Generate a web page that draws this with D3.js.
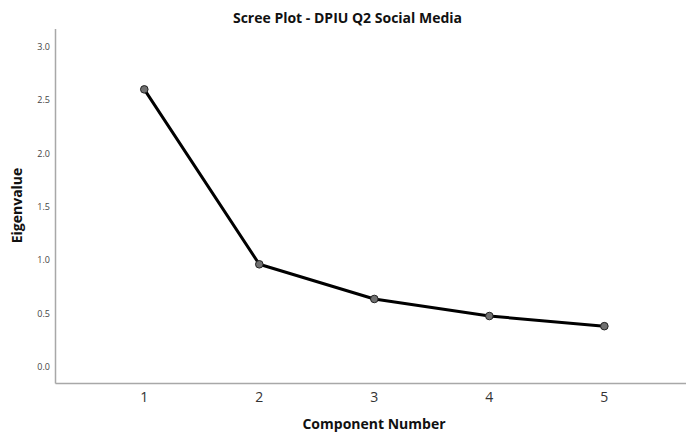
<!DOCTYPE html>
<html>
  <head>
    <meta charset="utf-8">
    <title>Scree Plot</title>
    <script src="https://d3js.org/d3.v7.min.js"></script>
    <style>
      body { margin: 0; background: #fff; }
      text { font-family: "Open Sans", "DejaVu Sans", sans-serif; }
    </style>
  </head>
  <body>
    <script>
      var components = [1, 2, 3, 4, 5];
      var eigenvalues = [2.60, 0.96, 0.635, 0.475, 0.38];
      var yTicks = [0.0, 0.5, 1.0, 1.5, 2.0, 2.5, 3.0];

      var width = 687, height = 432;

      var svg = d3.select("body").append("svg")
          .attr("width", width)
          .attr("height", height);

      // axis frame
      var x = d3.scaleLinear().domain([0.228, 5.71]).range([55.5, 686]);
      var y = d3.scaleLinear().domain([0, 3]).range([366.7, 46.7]);
      var yBottom = 383.5, yTop = 29;

      svg.append("line")
        .attr("x1", 55.5).attr("x2", 55.5)
        .attr("y1", yTop).attr("y2", yBottom)
        .attr("stroke", "#a8a8a8").attr("stroke-width", 1.5);
      svg.append("line")
        .attr("x1", 55.5).attr("x2", 686)
        .attr("y1", yBottom).attr("y2", yBottom)
        .attr("stroke", "#a8a8a8").attr("stroke-width", 1.5);

      svg.selectAll(".ytick")
        .data(yTicks)
        .enter().append("text")
        .attr("class", "ytick")
        .attr("x", 50)
        .attr("y", function(d) { return y(d); })
        .attr("dy", "0.35em")
        .attr("text-anchor", "end")
        .attr("font-size", 9)
        .attr("fill", "#444")
        .text(function(d) { return d.toFixed(1); });

      svg.selectAll(".xtick")
        .data(components)
        .enter().append("text")
        .attr("class", "xtick")
        .attr("x", function(d) { return x(d); })
        .attr("y", 397)
        .attr("dy", "0.35em")
        .attr("text-anchor", "middle")
        .attr("font-size", 14)
        .attr("fill", "#333")
        .text(function(d) { return d; });

      var line = d3.line()
        .x(function(d, i) { return x(components[i]); })
        .y(function(d) { return y(d); });

      svg.append("path")
        .datum(eigenvalues)
        .attr("d", line)
        .attr("fill", "none")
        .attr("stroke", "#000")
        .attr("stroke-width", 3)
        .attr("stroke-linejoin", "round");

      svg.selectAll(".pt")
        .data(eigenvalues)
        .enter().append("circle")
        .attr("class", "pt")
        .attr("cx", function(d, i) { return x(components[i]); })
        .attr("cy", function(d) { return y(d); })
        .attr("r", 3.8)
        .attr("fill", "#707070")
        .attr("stroke", "#222")
        .attr("stroke-width", 1);

      svg.append("text")
        .attr("x", 347.5).attr("y", 18)
        .attr("dy", "0.35em")
        .attr("text-anchor", "middle")
        .attr("font-size", 14)
        .attr("font-weight", "bold")
        .attr("fill", "#111")
        .text("Scree Plot - DPIU Q2 Social Media");

      svg.append("text")
        .attr("x", 374).attr("y", 424)
        .attr("dy", "0.35em")
        .attr("text-anchor", "middle")
        .attr("font-size", 14)
        .attr("font-weight", "bold")
        .attr("fill", "#111")
        .text("Component Number");

      svg.append("text")
        .attr("transform", "translate(17,205.5) rotate(-90)")
        .attr("dy", "0.35em")
        .attr("text-anchor", "middle")
        .attr("font-size", 14)
        .attr("font-weight", "bold")
        .attr("fill", "#111")
        .text("Eigenvalue");
    </script>
  </body>
</html>
